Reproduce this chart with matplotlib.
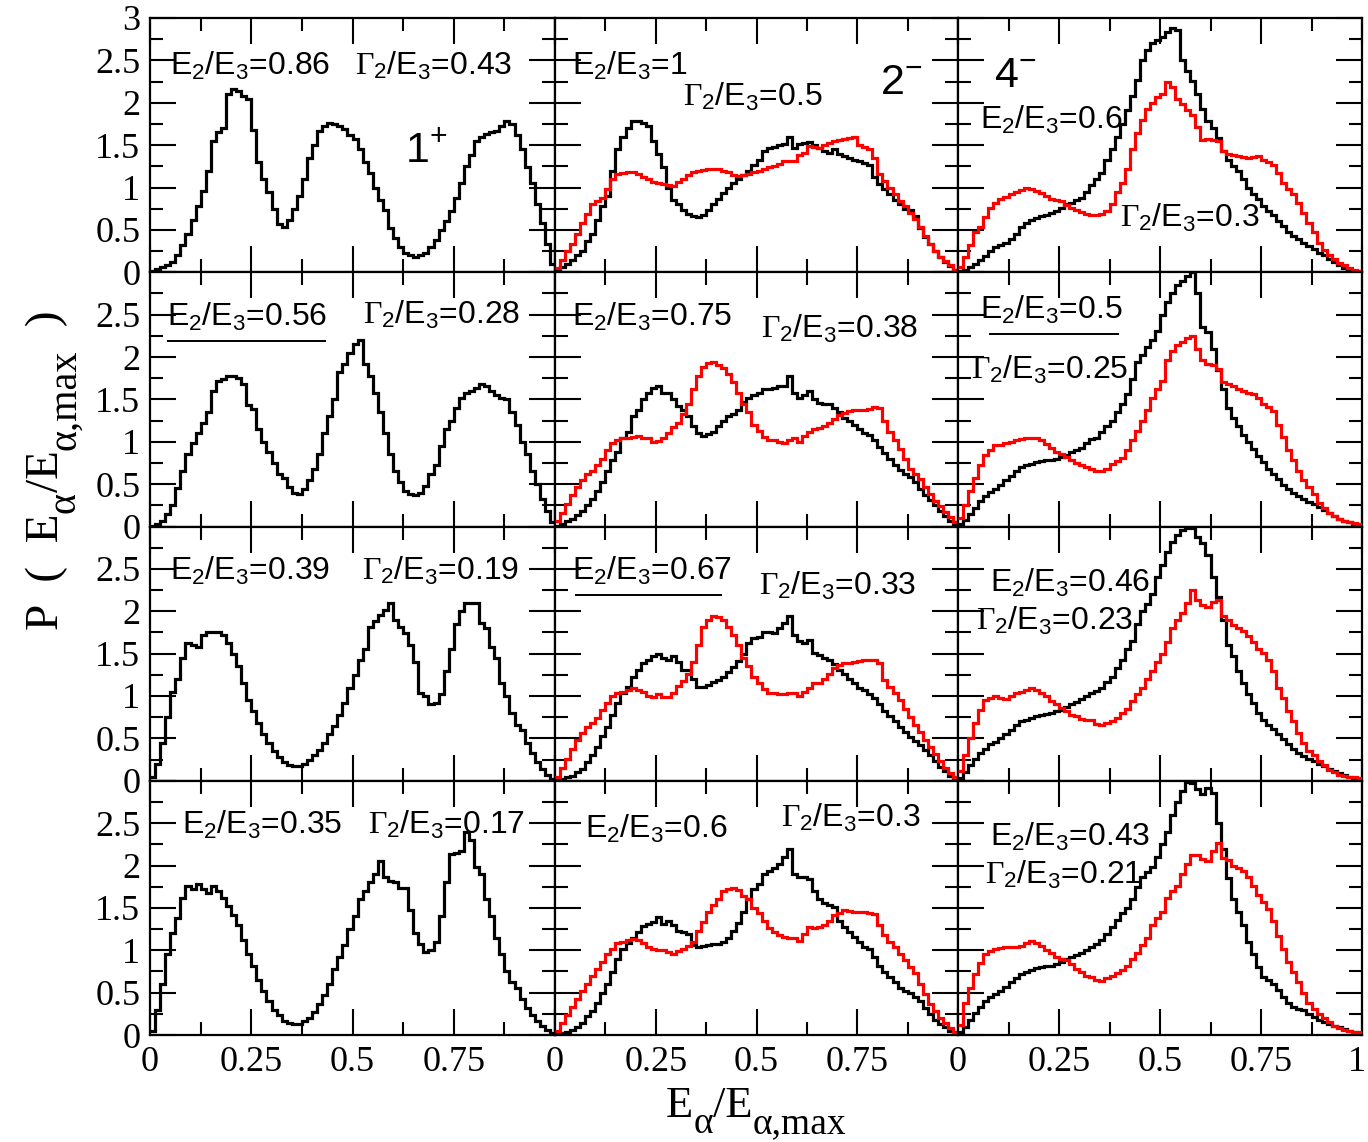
import numpy as np
import matplotlib
matplotlib.use("Agg")
import matplotlib.pyplot as plt
from matplotlib.transforms import ScaledTranslation

plt.rcParams["font.family"] = ["Liberation Serif", "DejaVu Serif"]
plt.rcParams["mathtext.fontset"] = "custom"
plt.rcParams["mathtext.rm"] = "Liberation Serif"
plt.rcParams["mathtext.sf"] = "Liberation Sans"
plt.rcParams["mathtext.it"] = "Liberation Serif:italic"
plt.rcParams["mathtext.bf"] = "Liberation Serif:bold"

# ---------------------------------------------------------------- labels
spin_parity = ["1^{+}", "2^{-}", "4^{-}"]
e2_over_e3 = [["0.86", "1", "0.6"],
              ["0.56", "0.75", "0.5"],
              ["0.39", "0.67", "0.46"],
              ["0.35", "0.6", "0.43"]]
gamma2_over_e3 = [["0.43", "0.5", "0.3"],
                  ["0.28", "0.38", "0.25"],
                  ["0.19", "0.33", "0.23"],
                  ["0.17", "0.3", "0.21"]]
x_tick_labels = ["0", "0.25", "0.5", "0.75", "1"]
y_tick_labels = ["0", "0.5", "1", "1.5", "2", "2.5", "3"]
# axis titles as (text, is_subscript) pieces
x_title = [("E", False), ("\u03b1", True), ("/E", False), ("\u03b1,max", True)]
y_title = [("P  (  E", False), ("\u03b1", True), ("/E", False),
           ("\u03b1,max", True), ("  )", False)]

# ---------------------------------------------------------------- spectra (80 bins on [0, 1])
# 1+ column (black only)
one_plus_086 = [
    0.02, 0.04, 0.06, 0.09, 0.12, 0.20, 0.32, 0.45, 0.62, 0.78,
    0.96, 1.20, 1.55, 1.65, 1.70, 2.10, 2.16, 2.14, 2.08, 2.04,
    1.68, 1.30, 1.10, 0.95, 0.75, 0.57, 0.53, 0.62, 0.75, 0.90,
    1.10, 1.35, 1.50, 1.67, 1.72, 1.76, 1.75, 1.73, 1.69, 1.62,
    1.57, 1.45, 1.30, 1.17, 1.00, 0.85, 0.73, 0.52, 0.40, 0.30,
    0.23, 0.20, 0.18, 0.20, 0.23, 0.30, 0.38, 0.50, 0.60, 0.72,
    0.88, 1.05, 1.25, 1.38, 1.55, 1.60, 1.63, 1.65, 1.67, 1.72,
    1.78, 1.75, 1.62, 1.45, 1.24, 1.05, 0.80, 0.58, 0.33, 0.10]
one_plus_056 = [
    0.01, 0.03, 0.07, 0.15, 0.25, 0.45, 0.65, 0.85, 0.98, 1.10,
    1.22, 1.35, 1.60, 1.72, 1.74, 1.77, 1.78, 1.75, 1.68, 1.43,
    1.39, 1.15, 1.00, 0.88, 0.75, 0.62, 0.57, 0.47, 0.40, 0.38,
    0.44, 0.55, 0.68, 0.85, 1.10, 1.30, 1.50, 1.82, 1.92, 2.05,
    2.15, 2.20, 1.92, 1.78, 1.58, 1.35, 1.10, 0.85, 0.65, 0.52,
    0.42, 0.38, 0.37, 0.40, 0.48, 0.62, 0.72, 0.95, 1.15, 1.25,
    1.40, 1.52, 1.58, 1.60, 1.64, 1.68, 1.66, 1.60, 1.55, 1.52,
    1.50, 1.35, 1.20, 1.00, 0.85, 0.65, 0.50, 0.32, 0.18, 0.05]
one_plus_039 = [
    0.05, 0.20, 0.45, 0.75, 1.05, 1.20, 1.45, 1.62, 1.60, 1.58,
    1.72, 1.75, 1.76, 1.75, 1.72, 1.62, 1.50, 1.35, 1.15, 0.95,
    0.82, 0.68, 0.55, 0.45, 0.35, 0.28, 0.22, 0.19, 0.17, 0.17,
    0.20, 0.24, 0.30, 0.36, 0.45, 0.55, 0.65, 0.78, 0.92, 1.10,
    1.25, 1.42, 1.55, 1.82, 1.88, 1.95, 2.02, 2.10, 1.90, 1.82,
    1.74, 1.60, 1.40, 1.04, 1.00, 0.90, 0.92, 1.02, 1.30, 1.55,
    1.85, 2.00, 2.10, 2.10, 2.10, 1.86, 1.80, 1.58, 1.45, 1.15,
    1.00, 0.80, 0.66, 0.60, 0.45, 0.33, 0.22, 0.14, 0.07, 0.02]
one_plus_035 = [
    0.05, 0.30, 0.60, 0.95, 1.20, 1.38, 1.62, 1.76, 1.72, 1.78,
    1.72, 1.68, 1.76, 1.70, 1.62, 1.52, 1.42, 1.30, 1.12, 0.95,
    0.82, 0.65, 0.52, 0.40, 0.30, 0.24, 0.17, 0.14, 0.13, 0.13,
    0.16, 0.20, 0.27, 0.36, 0.47, 0.60, 0.78, 0.92, 1.06, 1.25,
    1.40, 1.60, 1.70, 1.80, 1.90, 2.05, 1.86, 1.82, 1.80, 1.74,
    1.74, 1.47, 1.20, 1.07, 0.98, 1.00, 1.10, 1.40, 1.80, 2.13,
    2.15, 2.17, 2.40, 2.30, 1.98, 1.90, 1.60, 1.40, 1.15, 0.95,
    0.75, 0.62, 0.55, 0.42, 0.32, 0.24, 0.17, 0.11, 0.06, 0.02]

# 2- column
two_minus_100_black = [
    0.02, 0.06, 0.10, 0.14, 0.20, 0.25, 0.37, 0.45, 0.62, 0.78,
    0.90, 1.20, 1.45, 1.60, 1.70, 1.78, 1.78, 1.76, 1.72, 1.55,
    1.39, 1.24, 1.00, 0.85, 0.80, 0.74, 0.69, 0.66, 0.65, 0.68,
    0.73, 0.80, 0.86, 0.94, 1.00, 1.05, 1.10, 1.15, 1.20, 1.27,
    1.33, 1.43, 1.47, 1.48, 1.50, 1.51, 1.59, 1.47, 1.51, 1.52,
    1.54, 1.50, 1.47, 1.43, 1.41, 1.45, 1.39, 1.37, 1.35, 1.33,
    1.31, 1.29, 1.27, 1.12, 1.04, 0.98, 0.92, 0.85, 0.80, 0.75,
    0.73, 0.66, 0.52, 0.42, 0.33, 0.25, 0.18, 0.12, 0.07, 0.03]
two_minus_100_red = [
    0.05, 0.15, 0.25, 0.33, 0.45, 0.58, 0.69, 0.80, 0.84, 0.88,
    0.98, 1.10, 1.16, 1.17, 1.18, 1.18, 1.16, 1.12, 1.10, 1.07,
    1.05, 1.04, 1.03, 1.02, 1.06, 1.10, 1.15, 1.18, 1.20, 1.21,
    1.22, 1.22, 1.22, 1.20, 1.18, 1.15, 1.14, 1.15, 1.16, 1.18,
    1.20, 1.22, 1.24, 1.25, 1.28, 1.31, 1.31, 1.31, 1.38, 1.41,
    1.49, 1.48, 1.47, 1.50, 1.53, 1.55, 1.56, 1.57, 1.58, 1.59,
    1.50, 1.48, 1.45, 1.35, 1.16, 1.08, 1.00, 0.92, 0.84, 0.78,
    0.70, 0.63, 0.53, 0.43, 0.33, 0.25, 0.18, 0.13, 0.08, 0.03]
two_minus_075_black = [
    0.01, 0.03, 0.06, 0.09, 0.13, 0.18, 0.25, 0.32, 0.42, 0.52,
    0.65, 0.78, 0.88, 1.04, 1.11, 1.30, 1.38, 1.50, 1.58, 1.64,
    1.66, 1.58, 1.58, 1.50, 1.42, 1.37, 1.30, 1.19, 1.10, 1.07,
    1.09, 1.12, 1.18, 1.25, 1.30, 1.33, 1.38, 1.47, 1.52, 1.55,
    1.58, 1.62, 1.62, 1.64, 1.66, 1.66, 1.78, 1.58, 1.52, 1.55,
    1.60, 1.51, 1.46, 1.45, 1.45, 1.40, 1.35, 1.28, 1.25, 1.20,
    1.15, 1.10, 1.08, 1.02, 0.94, 0.87, 0.80, 0.73, 0.67, 0.62,
    0.58, 0.52, 0.44, 0.37, 0.31, 0.25, 0.18, 0.12, 0.07, 0.03]
two_minus_075_red = [
    0.06, 0.16, 0.26, 0.37, 0.47, 0.55, 0.62, 0.66, 0.72, 0.80,
    0.90, 0.98, 1.02, 1.04, 1.05, 1.06, 1.07, 1.05, 1.04, 1.00,
    1.01, 1.04, 1.10, 1.17, 1.22, 1.33, 1.45, 1.62, 1.78, 1.88,
    1.93, 1.94, 1.91, 1.87, 1.80, 1.70, 1.58, 1.45, 1.35, 1.20,
    1.13, 1.06, 1.02, 1.02, 1.00, 0.98, 1.02, 1.04, 1.00, 1.07,
    1.12, 1.15, 1.16, 1.18, 1.22, 1.27, 1.31, 1.34, 1.36, 1.37,
    1.37, 1.37, 1.39, 1.41, 1.40, 1.25, 1.12, 1.02, 0.92, 0.80,
    0.68, 0.62, 0.56, 0.47, 0.38, 0.30, 0.24, 0.17, 0.11, 0.05]
two_minus_067_black = [
    0.01, 0.02, 0.04, 0.06, 0.10, 0.14, 0.22, 0.30, 0.40, 0.53,
    0.64, 0.78, 0.92, 1.04, 1.11, 1.23, 1.31, 1.39, 1.43, 1.47,
    1.49, 1.45, 1.43, 1.47, 1.40, 1.31, 1.31, 1.20, 1.11, 1.11,
    1.13, 1.16, 1.19, 1.22, 1.28, 1.34, 1.41, 1.50, 1.62, 1.68,
    1.70, 1.76, 1.76, 1.74, 1.80, 1.86, 1.94, 1.72, 1.65, 1.62,
    1.66, 1.51, 1.48, 1.45, 1.43, 1.38, 1.31, 1.26, 1.20, 1.15,
    1.10, 1.07, 1.02, 0.98, 0.90, 0.82, 0.76, 0.70, 0.64, 0.57,
    0.52, 0.47, 0.42, 0.36, 0.30, 0.23, 0.16, 0.11, 0.06, 0.02]
two_minus_067_red = [
    0.05, 0.15, 0.26, 0.37, 0.48, 0.56, 0.63, 0.68, 0.74, 0.84,
    0.92, 1.00, 1.04, 1.05, 1.07, 1.09, 1.07, 1.05, 1.00, 0.99,
    1.02, 0.99, 0.99, 1.04, 1.12, 1.18, 1.26, 1.40, 1.60, 1.82,
    1.90, 1.94, 1.93, 1.90, 1.82, 1.72, 1.60, 1.45, 1.35, 1.23,
    1.15, 1.08, 1.04, 1.03, 1.02, 1.02, 1.04, 1.04, 1.00, 1.05,
    1.10, 1.15, 1.15, 1.20, 1.26, 1.33, 1.37, 1.39, 1.39, 1.40,
    1.41, 1.42, 1.43, 1.43, 1.39, 1.19, 1.11, 1.04, 0.95, 0.85,
    0.75, 0.66, 0.57, 0.48, 0.40, 0.32, 0.23, 0.15, 0.09, 0.04]
two_minus_060_black = [
    0.01, 0.02, 0.04, 0.06, 0.10, 0.14, 0.22, 0.28, 0.38, 0.50,
    0.60, 0.74, 0.90, 1.02, 1.09, 1.15, 1.21, 1.29, 1.31, 1.33,
    1.39, 1.31, 1.35, 1.30, 1.23, 1.21, 1.19, 1.06, 1.04, 1.05,
    1.06, 1.07, 1.07, 1.10, 1.15, 1.23, 1.32, 1.45, 1.60, 1.72,
    1.78, 1.90, 1.94, 1.97, 2.02, 2.10, 2.19, 1.90, 1.87, 1.86,
    1.84, 1.70, 1.60, 1.56, 1.53, 1.51, 1.35, 1.28, 1.22, 1.16,
    1.10, 1.04, 1.01, 0.92, 0.82, 0.74, 0.68, 0.62, 0.56, 0.52,
    0.50, 0.45, 0.40, 0.32, 0.25, 0.18, 0.13, 0.09, 0.05, 0.02]
two_minus_060_red = [
    0.05, 0.14, 0.24, 0.33, 0.43, 0.52, 0.60, 0.70, 0.78, 0.86,
    0.95, 1.02, 1.08, 1.10, 1.12, 1.13, 1.12, 1.09, 1.04, 1.02,
    1.00, 1.00, 0.98, 0.96, 0.99, 1.02, 1.05, 1.10, 1.23, 1.33,
    1.45, 1.53, 1.60, 1.70, 1.72, 1.74, 1.71, 1.64, 1.60, 1.50,
    1.44, 1.35, 1.26, 1.21, 1.18, 1.16, 1.15, 1.14, 1.11, 1.19,
    1.27, 1.26, 1.27, 1.30, 1.35, 1.42, 1.44, 1.47, 1.46, 1.45,
    1.45, 1.45, 1.44, 1.43, 1.30, 1.18, 1.10, 1.04, 0.95, 0.88,
    0.80, 0.73, 0.60, 0.48, 0.36, 0.28, 0.20, 0.14, 0.08, 0.03]

# 4- column
four_minus_060_black = [
    0.01, 0.03, 0.06, 0.10, 0.14, 0.19, 0.25, 0.30, 0.32, 0.35,
    0.39, 0.45, 0.53, 0.58, 0.62, 0.64, 0.66, 0.68, 0.70, 0.72,
    0.76, 0.80, 0.82, 0.85, 0.88, 0.95, 1.03, 1.10, 1.17, 1.32,
    1.45, 1.60, 1.75, 1.92, 2.08, 2.27, 2.50, 2.62, 2.70, 2.74,
    2.77, 2.84, 2.88, 2.86, 2.50, 2.37, 2.26, 2.10, 1.93, 1.78,
    1.70, 1.58, 1.43, 1.32, 1.25, 1.20, 1.10, 1.00, 0.92, 0.86,
    0.78, 0.72, 0.67, 0.60, 0.54, 0.48, 0.43, 0.39, 0.35, 0.31,
    0.27, 0.23, 0.20, 0.16, 0.12, 0.08, 0.05, 0.03, 0.02, 0.01]
four_minus_060_red = [
    0.06, 0.18, 0.32, 0.47, 0.53, 0.65, 0.76, 0.82, 0.86, 0.89,
    0.92, 0.95, 0.97, 0.99, 0.98, 0.96, 0.93, 0.90, 0.86, 0.85,
    0.84, 0.79, 0.76, 0.74, 0.71, 0.69, 0.67, 0.67, 0.69, 0.72,
    0.80, 0.95, 1.05, 1.22, 1.45, 1.64, 1.80, 1.93, 2.00, 2.07,
    2.10, 2.24, 2.19, 2.05, 1.99, 1.92, 1.86, 1.71, 1.56, 1.57,
    1.56, 1.55, 1.43, 1.39, 1.38, 1.37, 1.36, 1.35, 1.36, 1.37,
    1.33, 1.30, 1.27, 1.17, 1.05, 0.98, 0.92, 0.82, 0.70, 0.58,
    0.47, 0.35, 0.26, 0.20, 0.16, 0.11, 0.08, 0.05, 0.03, 0.02]
four_minus_050_black = [
    0.03, 0.08, 0.15, 0.22, 0.30, 0.36, 0.41, 0.44, 0.49, 0.55,
    0.60, 0.65, 0.70, 0.72, 0.74, 0.76, 0.77, 0.78, 0.79, 0.80,
    0.82, 0.84, 0.88, 0.90, 0.93, 0.98, 1.03, 1.05, 1.12, 1.18,
    1.25, 1.35, 1.45, 1.56, 1.74, 1.94, 2.02, 2.12, 2.20, 2.31,
    2.50, 2.65, 2.75, 2.85, 2.90, 2.96, 3.00, 2.76, 2.35, 2.30,
    2.10, 1.85, 1.62, 1.40, 1.28, 1.18, 1.08, 1.00, 0.92, 0.83,
    0.76, 0.68, 0.62, 0.56, 0.49, 0.44, 0.40, 0.36, 0.32, 0.29,
    0.26, 0.23, 0.19, 0.16, 0.12, 0.09, 0.07, 0.05, 0.03, 0.02]
four_minus_050_red = [
    0.10, 0.25, 0.42, 0.57, 0.72, 0.84, 0.90, 0.96, 0.96, 0.98,
    1.00, 1.02, 1.03, 1.05, 1.05, 1.04, 1.02, 0.97, 0.93, 0.88,
    0.86, 0.82, 0.78, 0.75, 0.72, 0.70, 0.68, 0.66, 0.66, 0.68,
    0.74, 0.77, 0.81, 0.90, 1.02, 1.13, 1.25, 1.38, 1.52, 1.62,
    1.72, 1.96, 2.07, 2.14, 2.18, 2.23, 2.25, 2.10, 1.96, 1.92,
    1.90, 1.86, 1.70, 1.68, 1.66, 1.62, 1.60, 1.58, 1.56, 1.52,
    1.45, 1.41, 1.36, 1.20, 1.06, 0.90, 0.78, 0.65, 0.55, 0.47,
    0.38, 0.28, 0.22, 0.16, 0.12, 0.09, 0.07, 0.05, 0.04, 0.03]
four_minus_046_black = [
    0.03, 0.10, 0.18, 0.26, 0.33, 0.38, 0.43, 0.46, 0.51, 0.55,
    0.60, 0.66, 0.70, 0.72, 0.74, 0.76, 0.78, 0.79, 0.80, 0.82,
    0.84, 0.87, 0.90, 0.93, 0.96, 1.00, 1.03, 1.06, 1.10, 1.17,
    1.23, 1.33, 1.43, 1.55, 1.65, 1.85, 2.00, 2.08, 2.20, 2.40,
    2.55, 2.70, 2.82, 2.90, 2.96, 2.98, 2.98, 2.88, 2.80, 2.66,
    2.40, 2.17, 1.90, 1.60, 1.47, 1.30, 1.15, 1.02, 0.92, 0.80,
    0.72, 0.66, 0.61, 0.55, 0.49, 0.43, 0.38, 0.33, 0.29, 0.26,
    0.23, 0.20, 0.17, 0.14, 0.11, 0.09, 0.07, 0.05, 0.03, 0.02]
four_minus_046_red = [
    0.12, 0.30, 0.50, 0.68, 0.84, 0.95, 0.98, 1.00, 0.98, 0.96,
    1.00, 1.03, 1.05, 1.07, 1.09, 1.07, 1.04, 1.00, 0.94, 0.90,
    0.86, 0.82, 0.78, 0.76, 0.73, 0.72, 0.72, 0.67, 0.66, 0.68,
    0.70, 0.74, 0.80, 0.85, 0.94, 1.02, 1.10, 1.20, 1.30, 1.40,
    1.50, 1.64, 1.80, 1.90, 1.98, 2.10, 2.25, 2.13, 2.07, 2.05,
    2.11, 2.13, 1.94, 1.90, 1.84, 1.80, 1.77, 1.71, 1.64, 1.56,
    1.51, 1.43, 1.30, 1.10, 0.98, 0.82, 0.70, 0.56, 0.45, 0.35,
    0.30, 0.23, 0.18, 0.13, 0.10, 0.07, 0.06, 0.05, 0.04, 0.03]
four_minus_043_black = [
    0.03, 0.10, 0.18, 0.26, 0.33, 0.40, 0.45, 0.48, 0.52, 0.57,
    0.62, 0.67, 0.72, 0.74, 0.77, 0.79, 0.80, 0.81, 0.82, 0.84,
    0.86, 0.90, 0.92, 0.94, 0.97, 1.00, 1.04, 1.07, 1.12, 1.19,
    1.27, 1.36, 1.44, 1.50, 1.60, 1.75, 1.86, 1.92, 1.98, 2.10,
    2.25, 2.40, 2.60, 2.75, 2.88, 2.98, 2.97, 2.90, 2.84, 2.92,
    2.85, 2.50, 2.20, 1.85, 1.60, 1.45, 1.30, 1.10, 0.96, 0.80,
    0.68, 0.65, 0.60, 0.53, 0.45, 0.38, 0.33, 0.31, 0.29, 0.25,
    0.21, 0.18, 0.15, 0.13, 0.11, 0.09, 0.07, 0.05, 0.03, 0.02]
four_minus_043_red = [
    0.12, 0.38, 0.56, 0.72, 0.85, 0.95, 0.99, 1.02, 1.03, 1.04,
    1.04, 1.04, 1.05, 1.08, 1.11, 1.09, 1.05, 1.00, 0.97, 0.92,
    0.90, 0.88, 0.84, 0.78, 0.74, 0.70, 0.68, 0.65, 0.64, 0.67,
    0.70, 0.73, 0.77, 0.82, 0.90, 0.97, 1.06, 1.15, 1.30, 1.38,
    1.45, 1.62, 1.70, 1.76, 1.90, 2.02, 2.12, 2.12, 2.08, 2.05,
    2.17, 2.27, 2.09, 2.06, 2.00, 1.97, 1.93, 1.87, 1.76, 1.65,
    1.57, 1.49, 1.35, 1.17, 1.01, 0.86, 0.74, 0.62, 0.50, 0.38,
    0.31, 0.25, 0.20, 0.15, 0.11, 0.08, 0.06, 0.05, 0.04, 0.03]

# curves shown in each panel: (row, column) -> [black, red]
panel_curves = {
    (0, 0): [one_plus_086], (0, 1): [two_minus_100_black, two_minus_100_red],
    (0, 2): [four_minus_060_black, four_minus_060_red],
    (1, 0): [one_plus_056], (1, 1): [two_minus_075_black, two_minus_075_red],
    (1, 2): [four_minus_050_black, four_minus_050_red],
    (2, 0): [one_plus_039], (2, 1): [two_minus_067_black, two_minus_067_red],
    (2, 2): [four_minus_046_black, four_minus_046_red],
    (3, 0): [one_plus_035], (3, 1): [two_minus_060_black, two_minus_060_red],
    (3, 2): [four_minus_043_black, four_minus_043_red],
}

# ---------------------------------------------------------------- layout
W, H = 1368, 1142
fig = plt.figure(figsize=(W / 100, H / 100), dpi=100)

col_px = [150, 555, 958, 1362]
row_px = [18, 272.25, 526.5, 780.75, 1035]
edges = np.linspace(0.0, 1.0, 81)
line_colors = ["black", "red"]
sans = ["Liberation Sans", "DejaVu Sans"]

# text anchor positions (axes x-fraction, data y) for each panel
e_pos = {(0, 0): (0.05, 2.33), (0, 1): (0.042, 2.33), (0, 2): (0.054, 1.69),
         (1, 0): (0.041, 2.37), (1, 1): (0.041, 2.37), (1, 2): (0.054, 2.45),
         (2, 0): (0.049, 2.37), (2, 1): (0.041, 2.37), (2, 2): (0.078, 2.23),
         (3, 0): (0.078, 2.37), (3, 1): (0.074, 2.33), (3, 2): (0.078, 2.23)}
g_pos = {(0, 0): (0.506, 2.33), (0, 1): (0.317, 1.96), (0, 2): (0.40, 0.53),
         (1, 0): (0.527, 2.39), (1, 1): (0.51, 2.23), (1, 2): (0.033, 1.74),
         (2, 0): (0.523, 2.37), (2, 1): (0.506, 2.19), (2, 2): (0.045, 1.78),
         (3, 0): (0.539, 2.37), (3, 1): (0.56, 2.45), (3, 2): (0.066, 1.78)}
spin_pos = [(0.63, 1.29), (0.807, 2.10), (0.09, 2.18)]
underlines = {(1, 0): (0.045, 0.432, 2.19), (2, 1): (0.053, 0.412, 2.19),
              (1, 2): (0.078, 0.396, 2.27)}

for r in range(4):
    for c in range(3):
        x0, x1 = col_px[c], col_px[c + 1]
        y0, y1 = row_px[r], row_px[r + 1]
        ax = fig.add_axes([x0 / W, 1 - y1 / H, (x1 - x0) / W, (y1 - y0) / H])
        ax.set_xlim(0, 1)
        ax.set_ylim(0, 3)

        for i, vals in enumerate(panel_curves[(r, c)]):
            ax.stairs(vals, edges, baseline=None, color=line_colors[i],
                      lw=2.3, zorder=2 + i)

        # ticks
        ax.set_xticks([0, 0.25, 0.5, 0.75, 1.0])
        ax.set_xticks([0.125, 0.375, 0.625, 0.875], minor=True)
        ax.set_yticks([0, 0.5, 1, 1.5, 2, 2.5, 3])
        ax.set_yticks([0.25, 0.75, 1.25, 1.75, 2.25, 2.75], minor=True)
        ax.tick_params(which="both", direction="in", top=True, right=True,
                       width=1.5, labelsize=26)
        ax.tick_params(which="major", length=19)
        ax.tick_params(which="minor", length=9.5)
        ax.tick_params(axis="x", pad=8)
        ax.tick_params(axis="y", pad=7)
        for s in ax.spines.values():
            s.set_linewidth(1.6)

        if c == 0:
            ylabs = list(y_tick_labels)
            if r > 0:
                ylabs[-1] = ""
            ax.set_yticklabels(ylabs)
        else:
            ax.set_yticklabels([])
        if r == 3:
            xlabs = list(x_tick_labels)
            if c < 2:
                xlabs[-1] = ""
            ax.set_xticklabels(xlabs)
            if c == 2:
                last = ax.get_xticklabels()[-1]
                last.set_transform(last.get_transform() + ScaledTranslation(
                    -5 / 100, 0, fig.dpi_scale_trans))
        else:
            ax.set_xticklabels([])

        # annotations
        ex, ey = e_pos[(r, c)]
        ax.text(ex, ey, r"$\mathsf{E_{2}/E_{3}}$=" + e2_over_e3[r][c],
                transform=ax.get_yaxis_transform(), fontsize=23,
                family=sans, ha="left", va="baseline", zorder=5)
        gx, gy = g_pos[(r, c)]
        ax.text(gx, gy, r"$\mathrm{\Gamma}_{\mathsf{2}}\mathsf{/E_{3}}$="
                + gamma2_over_e3[r][c],
                transform=ax.get_yaxis_transform(), fontsize=23,
                family=sans, ha="left", va="baseline", zorder=5)
        if (r, c) in underlines:
            ux0, ux1, uy = underlines[(r, c)]
            ax.plot([ux0, ux1], [uy, uy], color="black", lw=1.4, zorder=5)
        if r == 0:
            sx, sy = spin_pos[c]
            ax.text(sx, sy, r"$\mathsf{" + spin_parity[c] + "}$",
                    transform=ax.get_yaxis_transform(), fontsize=31,
                    ha="left", va="baseline", zorder=5)


# axis titles built from pieces so the subscripts stay large
renderer = fig.canvas.get_renderer()


def piece_title(pieces, anchor_px, center_px, vertical, main, sub, drop):
    texts, sizes = [], []
    for txt, is_sub in pieces:
        t = fig.text(0, 0, txt, fontsize=sub if is_sub else main,
                     ha="left", va="baseline", rotation=90 if vertical else 0,
                     rotation_mode="anchor", transform=None)
        bb = t.get_window_extent(renderer)
        texts.append(t)
        sizes.append(bb.height if vertical else bb.width)
    pos = center_px - sum(sizes) / 2.0
    for t, (txt, is_sub), s in zip(texts, pieces, sizes):
        d = drop if is_sub else 0
        if vertical:
            # pixel coords with origin bottom-left; text runs upwards
            t.set_position((anchor_px + d, pos))
        else:
            t.set_position((pos, anchor_px - d))
        pos += s


piece_title(x_title, H - 1117, 756, False, 32, 27, 16)
piece_title(y_title, 58, H - 470, True, 34, 29, 17)

fig.savefig("out.png", dpi=100)
